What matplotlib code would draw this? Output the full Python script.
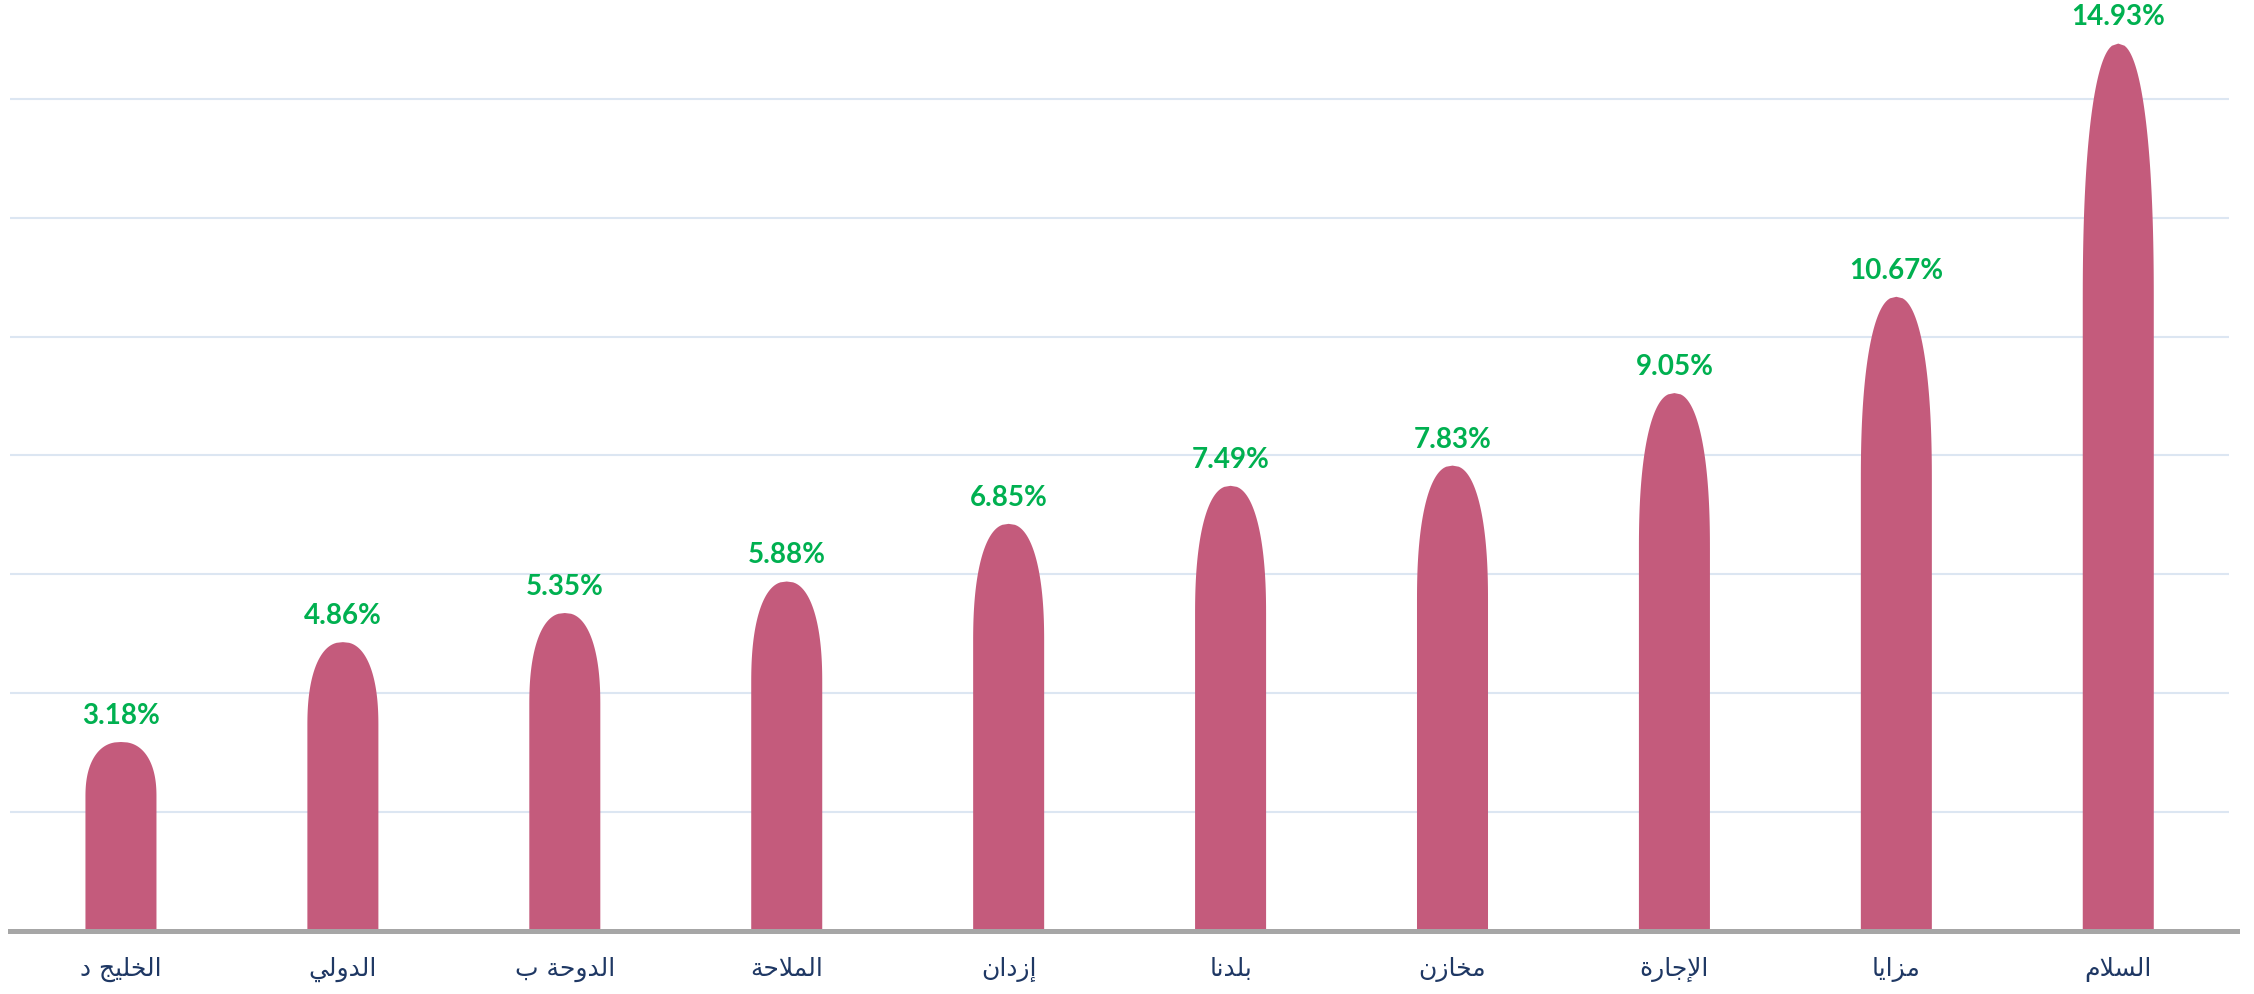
import numpy as np
import matplotlib
matplotlib.use("Agg")
import matplotlib.pyplot as plt
from matplotlib.path import Path
from matplotlib.patches import PathPatch

categories = ["الخليج د", "الدولي", "الدوحة ب", "الملاحة", "إزدان",
              "بلدنا", "مخازن", "الإجارة", "مزايا", "السلام"]
values = [3.18, 4.86, 5.35, 5.88, 6.85, 7.49, 7.83, 9.05, 10.67, 14.93]
value_labels = ["3.18%", "4.86%", "5.35%", "5.88%", "6.85%",
                "7.49%", "7.83%", "9.05%", "10.67%", "14.93%"]
grid_values = [2, 4, 6, 8, 10, 12, 14]

# ---- minimal Arabic shaping (presentation forms + visual reversal) ----
FORMS = {
    '\u0627': (0xFE8D, 0xFE8E, None, None),
    '\u0623': (0xFE83, 0xFE84, None, None),
    '\u0625': (0xFE87, 0xFE88, None, None),
    '\u0622': (0xFE81, 0xFE82, None, None),
    '\u0628': (0xFE8F, 0xFE90, 0xFE91, 0xFE92),
    '\u0629': (0xFE93, 0xFE94, None, None),
    '\u062A': (0xFE95, 0xFE96, 0xFE97, 0xFE98),
    '\u062B': (0xFE99, 0xFE9A, 0xFE9B, 0xFE9C),
    '\u062C': (0xFE9D, 0xFE9E, 0xFE9F, 0xFEA0),
    '\u062D': (0xFEA1, 0xFEA2, 0xFEA3, 0xFEA4),
    '\u062E': (0xFEA5, 0xFEA6, 0xFEA7, 0xFEA8),
    '\u062F': (0xFEA9, 0xFEAA, None, None),
    '\u0630': (0xFEAB, 0xFEAC, None, None),
    '\u0631': (0xFEAD, 0xFEAE, None, None),
    '\u0632': (0xFEAF, 0xFEB0, None, None),
    '\u0633': (0xFEB1, 0xFEB2, 0xFEB3, 0xFEB4),
    '\u0634': (0xFEB5, 0xFEB6, 0xFEB7, 0xFEB8),
    '\u0635': (0xFEB9, 0xFEBA, 0xFEBB, 0xFEBC),
    '\u0636': (0xFEBD, 0xFEBE, 0xFEBF, 0xFEC0),
    '\u0637': (0xFEC1, 0xFEC2, 0xFEC3, 0xFEC4),
    '\u0638': (0xFEC5, 0xFEC6, 0xFEC7, 0xFEC8),
    '\u0639': (0xFEC9, 0xFECA, 0xFECB, 0xFECC),
    '\u063A': (0xFECD, 0xFECE, 0xFECF, 0xFED0),
    '\u0641': (0xFED1, 0xFED2, 0xFED3, 0xFED4),
    '\u0642': (0xFED5, 0xFED6, 0xFED7, 0xFED8),
    '\u0643': (0xFED9, 0xFEDA, 0xFEDB, 0xFEDC),
    '\u0644': (0xFEDD, 0xFEDE, 0xFEDF, 0xFEE0),
    '\u0645': (0xFEE1, 0xFEE2, 0xFEE3, 0xFEE4),
    '\u0646': (0xFEE5, 0xFEE6, 0xFEE7, 0xFEE8),
    '\u0647': (0xFEE9, 0xFEEA, 0xFEEB, 0xFEEC),
    '\u0648': (0xFEED, 0xFEEE, None, None),
    '\u0649': (0xFEEF, 0xFEF0, None, None),
    '\u064A': (0xFEF1, 0xFEF2, 0xFEF3, 0xFEF4),
}
LAMALEF = {'\u0627': (0xFEFB, 0xFEFC), '\u0623': (0xFEF7, 0xFEF8),
           '\u0625': (0xFEF9, 0xFEFA), '\u0622': (0xFEF5, 0xFEF6)}


def shape_ar(s):
    out = []
    i = 0
    n = len(s)
    while i < n:
        ch = s[i]
        if ch not in FORMS:
            out.append(ch)
            i += 1
            continue
        prev = s[i - 1] if i > 0 else None
        joins_prev = prev in FORMS and FORMS[prev][2] is not None
        if ch == '\u0644' and i + 1 < n and s[i + 1] in LAMALEF:
            iso, fin = LAMALEF[s[i + 1]]
            out.append(chr(fin if joins_prev else iso))
            i += 2
            continue
        nxt = s[i + 1] if i + 1 < n else None
        joins_next = FORMS[ch][2] is not None and nxt in FORMS
        iso, fin, ini, med = FORMS[ch]
        if joins_prev and joins_next:
            code = med
        elif joins_prev:
            code = fin
        elif joins_next:
            code = ini
        else:
            code = iso
        out.append(chr(code))
        i += 1
    return ''.join(reversed(out))


# ---- figure ----
W, H = 2254, 995
fig = plt.figure(figsize=(W / 100, H / 100), dpi=100)
ax = fig.add_axes([10 / W, 63 / H, (2237 - 10) / W, 1 - 63 / H])
ax.set_xlim(-0.5, 9.535)
ax.set_ylim(0, 15.68)

bar_color = '#C45B7C'
bar_w = 0.32
dome_frac = 0.29
p = 2.3

for i, v in enumerate(values):
    x0 = i - bar_w / 2
    x1 = i + bar_w / 2
    a = bar_w / 2
    b = dome_frac * v
    yb = v - b
    t = np.linspace(0, 1, 120)
    dy = t * b
    hw = a * np.clip(1 - (dy / b) ** p, 0, None) ** (1 / p)
    right = np.column_stack([i + hw, yb + dy])
    left = np.column_stack([i - hw[::-1], yb + dy[::-1]])
    verts = np.vstack([[x0, 0], [x1, 0], right, left, [x0, 0]])
    codes = [Path.MOVETO] + [Path.LINETO] * (len(verts) - 2) + [Path.CLOSEPOLY]
    ax.add_patch(PathPatch(Path(verts, codes), facecolor=bar_color,
                           edgecolor='none', zorder=2))
    ax.annotate(value_labels[i], (i, v), xytext=(0, 19.5),
                textcoords='offset points', ha='center', va='center',
                fontsize=20, fontweight='bold', color='#00B050',
                family=['Lato', 'DejaVu Sans'], zorder=4)

ax.hlines(grid_values, -0.5, 9.5, colors='#DCE6F2', linewidth=1.5, zorder=1)

for s in ['top', 'left', 'right']:
    ax.spines[s].set_visible(False)
ax.spines['bottom'].set_color('#A6A6A6')
ax.spines['bottom'].set_linewidth(3.6)
ax.spines['bottom'].set_zorder(3)

ax.set_xticks(range(len(categories)))
ax.set_xticklabels([shape_ar(c) for c in categories], fontsize=18,
                   color='#1F3864', family=['DejaVu Sans'])
ax.tick_params(axis='x', length=0, pad=18)
ax.set_yticks([])

fig.savefig('out.png', dpi=100)
